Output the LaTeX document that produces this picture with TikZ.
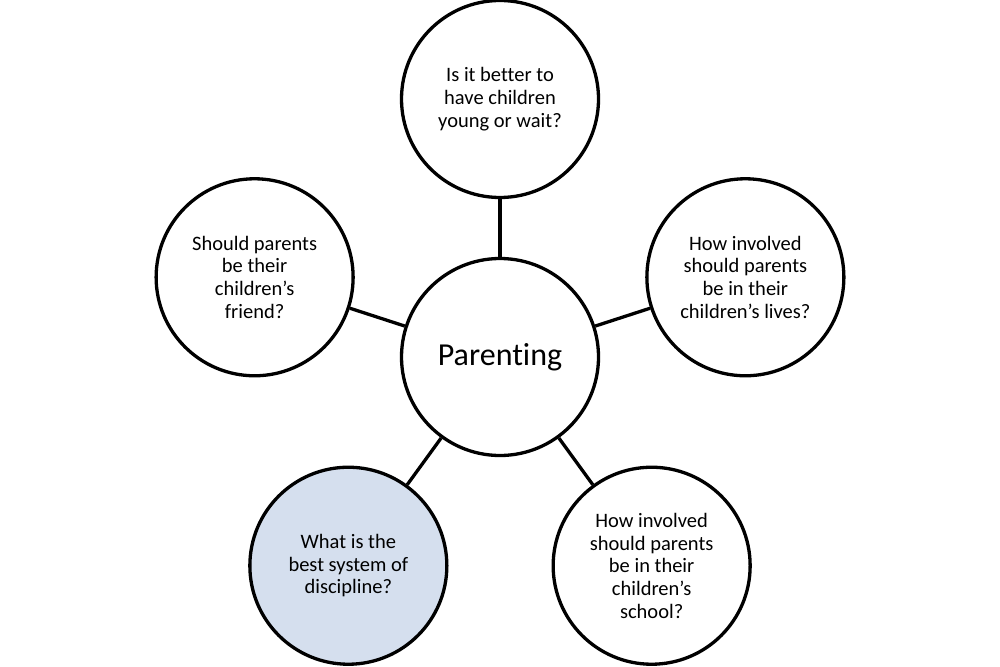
\documentclass[tikz,border=0pt]{standalone}
\usepackage{fontspec}
\setmainfont{Carlito}[Ligatures=NoCommon]
\usetikzlibrary{calc}
\definecolor{lightfill}{HTML}{D5DFEE}
\begin{document}
\begin{tikzpicture}[x=1pt,y=-1pt,
  bubble/.style={circle,draw=black,line width=3.3pt,fill=white,minimum size=197pt,inner sep=0pt,align=center,
    font=\fontsize{20.5}{22.7}\selectfont},
  link/.style={line width=3.3pt}]
\useasboundingbox (0,0) rectangle (1000,666);
\def\R{258}
\node[bubble,font=\fontsize{32}{36}\selectfont] (c) at (500,357) {Parenting};
\node[bubble] (t) at ($(500,357)+(0,-\R)$) {Is it better to\\have children\\young or wait?};
\node[bubble] (l) at ($(500,357)+({-\R*cos(18)},{-\R*sin(18)})$) {Should parents\\be their\\children’s\\friend?};
\node[bubble] (r) at ($(500,357)+({\R*cos(18)},{-\R*sin(18)})$) {How involved\\should parents\\be in their\\children’s lives?};
\node[bubble,fill=lightfill] (bl) at ($(500,357)+({-\R*cos(54)},{\R*sin(54)})$) {What is the\\best system of\\discipline?};
\node[bubble] (br) at ($(500,357)+({\R*cos(54)},{\R*sin(54)})$) {How involved\\should parents\\be in their\\children’s\\school?};
\draw[link] (c) -- (t);
\draw[link] (c) -- (l);
\draw[link] (c) -- (r);
\draw[link] (c) -- (bl);
\draw[link] (c) -- (br);
\end{tikzpicture}
\end{document}
